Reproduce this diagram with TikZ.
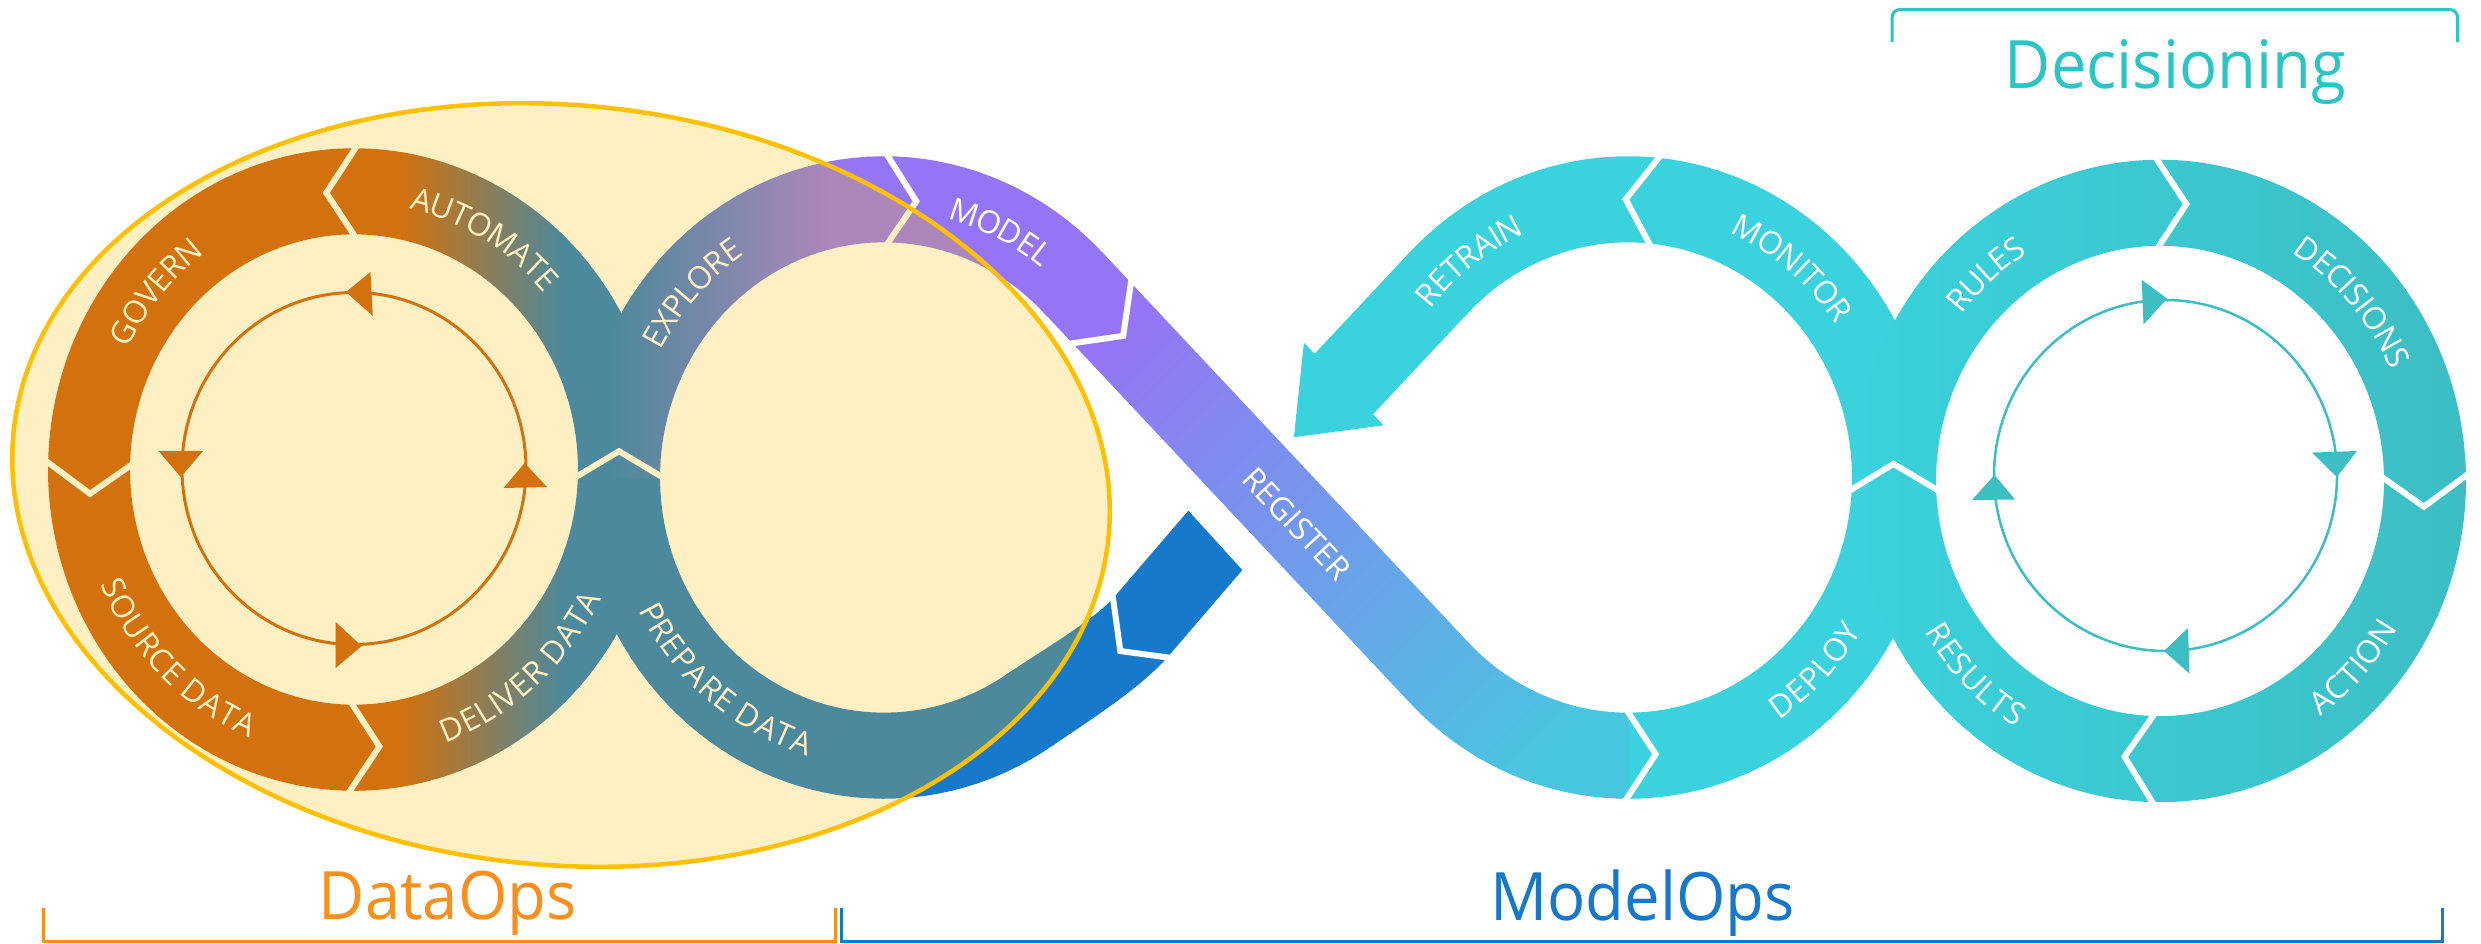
\documentclass[tikz,border=0pt]{standalone}
\usepackage{fontspec}
\setmainfont{Open Sans}
\usetikzlibrary{decorations.text}
\definecolor{orangeU}{HTML}{C55A11}
\definecolor{blueU}{HTML}{1779CC}
\definecolor{purpleU}{HTML}{9575F5}
\definecolor{lblueU}{HTML}{48C6E0}
\definecolor{cyanC}{HTML}{3AD2DC}
\definecolor{tealC}{HTML}{3CBEC3}
\definecolor{goldC}{HTML}{FFC000}
\definecolor{dataOrange}{HTML}{F7901E}
\definecolor{modelBlue}{HTML}{1777C8}
\definecolor{decTeal}{HTML}{2CC5C5}
\newcommand\bandfont{\fontsize{9}{10}\selectfont\color{white}}
\newcommand\RingSector[4]{plot[domain=0:1,samples=100,variable=\t]({#1+306*cos(#3+(#4-#3)*\t)},{#2+306*sin(#3+(#4-#3)*\t)}) -- plot[domain=0:1,samples=100,variable=\t]({#1+224*cos(#4+(#3-#4)*\t)},{#2+224*sin(#4+(#3-#4)*\t)}) -- cycle}
\newcommand\FullRing[2]{\RingSector{#1}{#2}{0}{200} \RingSector{#1}{#2}{180}{380}}
\newcommand\ChevRing[4]{\draw[chev] ({#1+312*cos(#3)},{#2+312*sin(#3)}) -- ({#1+265*cos(#4)},{#2+265*sin(#4)}) -- ({#1+218*cos(#3)},{#2+218*sin(#3)});}
\newcommand\ArcText[5]{\path[decorate,decoration={text along path,text align=center,raise=-3.2pt,text={|\bandfont|#5}}] plot[domain=0:1,samples=60,variable=\t]({#1+265*cos(#3+(#4-#3)*\t)},{#2+265*sin(#3+(#4-#3)*\t)});}
\tikzset{
  chev/.style={draw=white,line width=0.6mm,line join=miter,miter limit=10},
  regtxt/.style={font=\fontsize{9}{10}\selectfont,text=white,inner sep=0pt},
  title/.style={anchor=base,font=\fontsize{19}{22}\selectfont,xscale=0.95,inner sep=0pt},
  bracket/.style={line width=0.3mm}
}
\begin{document}
\begin{tikzpicture}[x=0.1mm,y=-0.1mm]
\useasboundingbox (0,0) rectangle (2481,944);
\fill[white] (0,0) rectangle (2481,944);
\begin{scope}[shift={(1256,477.5)},x=0.1mm,y=0.105mm]
  % left data ring
  \begin{scope}
    \clip \FullRing{-902}{7.6};
    \fill[orangeU] (-1230,-330) rectangle (-855,340);
    \shade[left color=orangeU,right color=blueU] (-856,-330) rectangle (-691,340);
    \fill[blueU] (-692,-330) rectangle (-580,340);
  \end{scope}
  % left loop of infinity
  \begin{scope}
    \clip \RingSector{-372}{0}{43}{304.5};
    \fill[blueU] (-700,-320) rectangle (-40,0.5);
    \fill[blueU] (-700,0) rectangle (-645,320);
    \shade[left color=blueU,right color=purpleU] (-646,0) rectangle (-426,320);
    \fill[purpleU] (-427,0) rectangle (-40,320);
  \end{scope}
  % blue tail
  \fill[blueU] (-205.3,-256.6) .. controls (-163.4,-229.4) and (-114.1,-199.5) .. (-87.3,-169.8) -- (-13.7,-88.1) -- (-67.7,-31.6) -- (-141.3,-113.3) .. controls (-161.4,-135.6) and (-216.5,-166.1) .. (-250,-187.9) -- cycle;
  % register strand
  \begin{scope}
    \clip (-212.6,157.4) -- (154.2,-215.0) -- (212.6,-157.4) -- (-154.2,215.0) -- cycle \RingSector{372}{0}{223}{271};
    \shade[top color=purpleU,bottom color=lblueU,shading angle=45] (-220,230) rectangle (420,-320);
  \end{scope}
  % right loop of infinity
  \fill[cyanC] \RingSector{372}{0}{270}{497};
  \fill[cyanC] (154.2,215.0) -- (58.6,117.8) -- (47.9,128.3) -- (37.9,38.4) -- (127.7,49.7) -- (117.0,60.2) -- (212.6,157.4) -- cycle;
  % decisioning ring
  \begin{scope}
    \clip \FullRing{904}{-3.3};
    \shade[left color=cyanC,right color=tealC] (598,-320) rectangle (1212,320);
  \end{scope}
  % chevrons
  \ChevRing{-902}{7.6}{89}{96}
  \ChevRing{-902}{7.6}{178}{185}
  \ChevRing{-902}{7.6}{268.5}{275.5}
  \ChevRing{-372}{0}{90}{83}
  \ChevRing{372}{0}{83.5}{90.5}
  \ChevRing{372}{0}{269}{276}
  \ChevRing{904}{-3.3}{91.3}{84.3}
  \ChevRing{904}{-3.3}{1.7}{-5.3}
  \ChevRing{904}{-3.3}{269.3}{262.3}
  \draw[chev] (-124.7,187.9) -- (-132.8,134.9) -- (-185.9,127.5);
  \draw[chev] (-143.5,-111.3) -- (-135.7,-165.3) -- (-85.1,-171.8);
  \draw[chev] (-681,0) -- (-637,25) -- (-593,0);
  \draw[chev] (593,-12.9) -- (637.5,13) -- (683,-12.9);
  % band labels
  \ArcText{-902}{7.6}{89.5}{29.5}{AUTOMATE}
  \ArcText{-902}{7.6}{179}{99}{GOVERN}
  \ArcText{-902}{7.6}{186}{266}{SOURCE DATA}
  \ArcText{-902}{7.6}{271}{351}{DELIVER DATA}
  \ArcText{-372}{0}{177}{97}{EXPLORE}
  \ArcText{-372}{0}{104}{24}{MODEL}
  \ArcText{-372}{0}{191}{271}{PREPARE DATA}
  \ArcText{372}{0}{167}{87}{RETRAIN}
  \ArcText{372}{0}{91}{11}{MONITOR}
  \ArcText{372}{0}{275}{355}{DEPLOY}
  \ArcText{904}{-3.3}{171}{91}{RULES}
  \ArcText{904}{-3.3}{82}{2}{DECISIONS}
  \ArcText{904}{-3.3}{277}{357}{ACTION}
  \ArcText{904}{-3.3}{185.5}{265.5}{RESULTS}
  \node[regtxt,rotate=-46.8] (lblRegister) at (41,-44) {REGISTER};
\end{scope}
% inner cycles
\draw[orangeU,line width=0.3mm] (354,468.5) ellipse[x radius=17.2mm,y radius=17.6mm];
\fill[orangeU] (346,292) -- (370.5,272) -- (372.8,316) -- cycle;
\fill[orangeU] (180.8,477) -- (158.5,451) -- (203,451) -- cycle;
\fill[orangeU] (361.6,646) -- (335.7,622) -- (335.7,668) -- cycle;
\fill[orangeU] (524.6,463) -- (503.6,488) -- (547,487) -- cycle;
\draw[tealC,line width=0.25mm] (2165.5,475.5) ellipse[x radius=17.15mm,y radius=17.55mm];
\fill[tealC] (2167,298.6) -- (2141.7,279.8) -- (2143.5,324.5) -- cycle;
\fill[tealC] (2336.8,477) -- (2312,452.6) -- (2356.9,451) -- cycle;
\fill[tealC] (2164,651) -- (2188,628) -- (2189.5,673.6) -- cycle;
\fill[tealC] (1994.4,475) -- (1972,500) -- (2015,499.5) -- cycle;
% DataOps highlight
\path[fill=goldC,fill opacity=0.23,draw=goldC,draw opacity=1,line width=0.45mm,rotate around={-5.3:(561,485)}] (561,485) ellipse[x radius=55mm,y radius=38mm];
% brackets and titles
\draw[bracket,dataOrange] (43,908) -- (43,941) -- (835,941) -- (835,908);
\draw[bracket,modelBlue] (841,908) -- (841,941) -- (2442,941) -- (2442,908);
\draw[bracket,decTeal,rounded corners=0.8mm] (1892,42) -- (1892,9.5) -- (2457.6,9.5) -- (2457.6,42);
\node[title,text=dataOrange] (tDataOps) at (447.8,919.3) {DataOps};
\node[title,text=modelBlue] (tModelOps) at (1642.4,920) {ModelOps};
\node[title,text=decTeal] (tDecisioning) at (2175.5,88.3) {Decisioning};
\end{tikzpicture}
\end{document}
